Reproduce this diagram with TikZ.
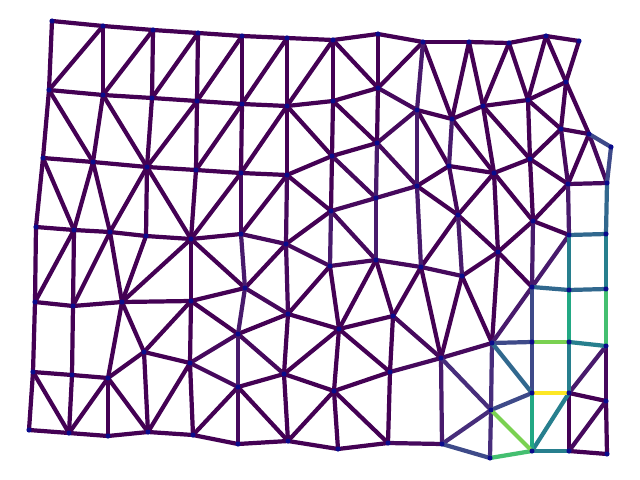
\documentclass[tikz,border=0pt]{standalone}
\usepackage{tikz}
\usepackage{xcolor}

% viridis shades used on the edges
\definecolor{vir0}{HTML}{440154}
\definecolor{vir1}{HTML}{46095D}
\definecolor{vir2}{HTML}{481A6C}
\definecolor{vir2b}{HTML}{472D7B}
\definecolor{vir3}{HTML}{3E4A89}
\definecolor{vir4}{HTML}{31688E}
\definecolor{vir5}{HTML}{277F8E}
\definecolor{vir6}{HTML}{22A884}
\definecolor{vir7}{HTML}{44BF70}
\definecolor{vir8}{HTML}{7AD151}
\definecolor{vir9}{HTML}{FDE725}
\definecolor{dotblue}{HTML}{0A0A8C}

\tikzset{
  edge/.style={line width=3pt, line cap=round},
}

\begin{document}
\begin{tikzpicture}[x=0.025cm, y=-0.025cm]
\useasboundingbox (0,0) rectangle (640,480);

% Mesh vertices
\foreach \n/\x/\y in {t1/52/21, t2/103/26, t3/153/30, t4/198/33, t5/242/36, t6/287/38,
    t7/333/40, t8/378/34, t9/423/42, t10/469/42, t11/509/43, t12/546/36, t13/579/41,
    u1/49/90, u2/103/95, u3/152/98, u4/197/101, u5/242/104, u6/287/106, u7/333/101,
    u8/378/88, u9/417/110, u10/452/119, u11/483/106, u12/528/100, u13/566/82,
    u14/561/129, u15/589/134, u16/611/147,
    v1/43/158, v2/93/162, v3/147/167, v4/196/170, v5/241/173, v6/287/175, v7/332/156,
    v8/377/143, v9/417/186, v10/449/166, v11/494/173, v12/530/159, v13/568/184,
    v14/607/183, v15/331/211, v16/376/198,
    w1/36/227, w2/74/230, w3/110/232, w4/146/236, w5/191/239, w6/241/234, w7/286/244,
    w8/330/266, w9/376/260, w10/421/267, w11/458/215, w12/533/221, w13/569/235,
    w14/606/234, w15/498/252, w16/462/276,
    x1/35/302, x2/73/306, x3/122/302, x4/191/301, x5/245/288, x6/288/314, x7/339/329,
    x8/393/316, x9/532/287, x10/569/290, x11/606/289,
    y1/238/334, y2/144/352, y3/190/363, y4/33/372, y5/72/375, y6/108/378, y7/238/387,
    y8/284/374, y9/334/391, y10/390/372, y11/441/358, y12/492/343, y13/532/342,
    y14/569/342, y15/606/346, y16/532/393, y17/569/393, y18/606/401, y19/491/410,
    z1/29/430, z2/69/433, z3/108/436, z4/148/432, z5/193/435, z6/238/444, z7/288/441,
    z8/338/449, z9/388/443, z10/442/444, z11/490/458, z12/532/451, z13/569/451,
    z14/607/454}
  \coordinate (\n) at (\x,\y);

% Dark edges
\foreach \a/\b in {t1/t2, t2/t3, t3/t4, t4/t5, t5/t6, t6/t7, t7/t8, t8/t9, t9/t10,
    t10/t11, t11/t12, t12/t13,
    t1/u1, u1/t2, t2/u2, u2/t3, t3/u3, u3/t4, t4/u4, u4/t5, t5/u5, u5/t6, t6/u6,
    u6/t7, t7/u7, t7/u8, t8/u8, u8/t9, t9/u10, t10/u10, t10/u11, t11/u11, t11/u12,
    t12/u12, t12/u13, t13/u13,
    u1/u2, u2/u3, u3/u4, u4/u5, u5/u6, u6/u7, u7/u8, u9/u10, u10/u11, u11/u12,
    u12/u13, u12/u14, u13/u14, u13/u15, u14/u15,
    u1/v1, u1/v2, u2/v2, u2/v3, u3/v3, u4/v3, u4/v4, u5/v4, u5/v5, u6/v5, u6/v6,
    u6/v7, u7/v7, u7/v8, u8/v8, u9/v10, u10/v11, u11/v11, u11/v12, u12/v12,
    u14/v12, u15/v13,
    v1/v2, v2/v3, v3/v4, v4/v5, v5/v6, v6/v7, v7/v8, v7/v15, v6/v15, v9/v10,
    v10/v11, v11/v12, v12/v13,
    v1/w1, v1/w2, v2/w2, v2/w3, v3/w3, v3/w4, v3/w5, v4/w5, v5/w5, v6/w6,
    v15/w7, v9/w11, v11/w11, v11/w15, v11/w12, v12/w12, v13/w12,
    w1/w2, w2/w3, w3/w4, w4/w5, w5/w6, w10/w11, w11/w15, w15/w16, w15/w12, w12/w13,
    w1/x1, w2/x1, w2/x2, w3/x2, w3/x3, w4/x3, w5/x3, w5/x4, w5/x5, w7/x5, w8/x6,
    w8/x7, w9/x7, w9/x8, w10/x8, w15/x9,
    x1/x2, x2/x3, x3/x4, x4/x5, x6/x7, x7/x8,
    x1/y4, x2/y5, x3/y6, x3/y2, x4/y2, x4/y3, x4/y1, y1/x6, x6/y8, x7/y8, x7/y9,
    x7/y10, x8/y10,
    y4/y5, y5/y6, y6/y2, y2/y3, y7/y8, y8/y9, y9/y10, y17/y18,
    y4/z1, y4/z2, y5/z2, y6/z2, y6/z3, y6/z4, y2/z4, y3/z4, y3/z5, y7/z5, y7/z7,
    y8/z7, y9/z7, y9/z8, y9/z9, y10/z9, y17/z13, y18/z14,
    z1/z2, z2/z3, z3/z4, z4/z5, z5/z6, z6/z7, z7/z8, z8/z9, z13/z14,
    w10/y11, w16/y11, w16/y12, w15/y12}
  \draw[edge, vir0] (\a) -- (\b);

% Slightly lighter edges
\foreach \a/\b in {u8/u9, u9/v8, v7/v16, v16/v9, v8/v9, v15/v16, v15/w9, w8/w9,
    w9/w10, w7/x6, x5/x6, y3/y1, y3/y7, y7/z6, y1/y8, v10/w11, w10/w16,
    y11/y12, z9/z10, u15/v14, u14/v13, y15/y18, y18/z13, v5/w6, v6/w7, w6/w7,
    w7/w8, v13/v14, x8/y11, y10/y11}
  \draw[edge, vir1] (\a) -- (\b);

\foreach \a/\b in {t9/u9, u9/v9, v8/v16, v16/w9, v15/w8, w6/x5, x5/y1, y1/y7,
    u10/v10, w11/w16, v9/w10, w12/x9, w13/x9, v13/w13, x9/y12, y11/z10, y15/y17}
  \draw[edge, vir2] (\a) -- (\b);
\foreach \a/\b in {y11/y19, y12/y19, y19/z10, y19/z11}
  \draw[edge, vir2b] (\a) -- (\b);

% Edges of the right corner
\foreach \a/\b in {u15/u16, u16/v14, x9/y13, y12/y13, y13/y16, y19/y16, z10/z11}
  \draw[edge, vir3] (\a) -- (\b);
\foreach \a/\b in {v14/w14, w13/w14, x9/x10, x10/x11, y12/y16}
  \draw[edge, vir4] (\a) -- (\b);
\foreach \a/\b in {w13/x10, y14/y15, y14/y17, y17/z12, z12/z13, w14/x11}
  \draw[edge, vir5] (\a) -- (\b);
\foreach \a/\b in {x10/y14, y16/z12}
  \draw[edge, vir6] (\a) -- (\b);
\foreach \a/\b in {z11/z12, x11/y15}
  \draw[edge, vir7] (\a) -- (\b);
\foreach \a/\b in {y13/y14, y19/z12}
  \draw[edge, vir8] (\a) -- (\b);
\draw[edge, vir9] (y16) -- (y17);

% Mark vertices
\foreach \n in {t1,t2,t3,t4,t5,t6,t7,t8,t9,t10,t11,t12,t13,
    u1,u2,u3,u4,u5,u6,u7,u8,u9,u10,u11,u12,u13,u14,u15,u16,
    v1,v2,v3,v4,v5,v6,v7,v8,v9,v10,v11,v12,v13,v14,v15,v16,
    w1,w2,w3,w4,w5,w6,w7,w8,w9,w10,w11,w12,w13,w14,w15,w16,
    x1,x2,x3,x4,x5,x6,x7,x8,x9,x10,x11,
    y1,y2,y3,y4,y5,y6,y7,y8,y9,y10,y11,y12,y13,y14,y15,y16,y17,y18,y19,
    z1,z2,z3,z4,z5,z6,z7,z8,z9,z10,z11,z12,z13,z14}
  \fill[dotblue] (\n) circle (1.8pt);

\end{tikzpicture}
\end{document}
